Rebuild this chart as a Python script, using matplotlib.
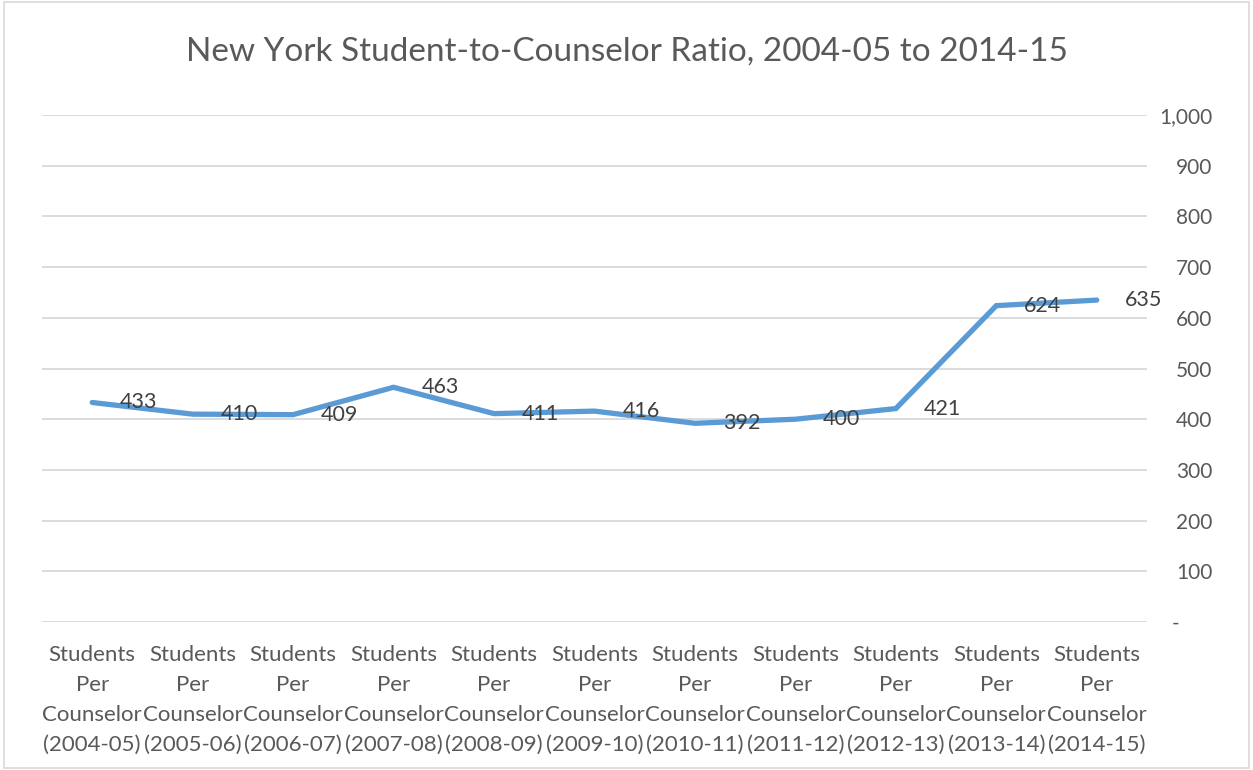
import matplotlib.pyplot as plt
from matplotlib.patches import Rectangle
from matplotlib.ticker import FixedLocator

# Student-to-counselor ratio by school year
years = ['2004-05', '2005-06', '2006-07', '2007-08', '2008-09', '2009-10',
         '2010-11', '2011-12', '2012-13', '2013-14', '2014-15']
ratios = [433, 410, 409, 463, 411, 416, 392, 400, 421, 624, 635]
y_ticks = [0, 100, 200, 300, 400, 500, 600, 700, 800, 900, 1000]

plt.rcParams['font.family'] = ['Lato', 'DejaVu Sans']

line_color = '#5b9bd5'
text_color = '#595959'
label_color = '#404040'
grid_color = '#d9d9d9'

fig = plt.figure(figsize=(12.53, 7.7), dpi=100)
ax = fig.add_axes([0.0335, 0.1922, 0.8819, 0.6584])

x = list(range(len(years)))
ax.plot(x, ratios, color=line_color, linewidth=3.8, solid_joinstyle='miter',
        solid_capstyle='round', zorder=3)

# value labels sit just right of each point
for xi, v in zip(x, ratios):
    ax.annotate(str(v), (xi, v), xytext=(20, 0), textcoords='offset points',
                ha='left', va='center', fontsize=15.5, color=label_color, zorder=4)

ax.set_xlim(-0.5, len(years) - 0.5)
ax.set_ylim(0, 1000)

ax.yaxis.set_major_locator(FixedLocator(y_ticks))
ax.grid(axis='y', color=grid_color, linewidth=1.3, zorder=0)
for s in ax.spines.values():
    s.set_visible(False)

ax.yaxis.tick_right()
ax.set_yticks(y_ticks)
ax.set_yticklabels(['-      '] + [f'{t:,}' for t in y_ticks[1:]])
ax.tick_params(axis='y', length=0, pad=47, labelsize=15, labelcolor=text_color)
for lbl in ax.get_yticklabels():
    lbl.set_horizontalalignment('right')

ax.set_xticks(x)
ax.set_xticklabels([f'Students\nPer\nCounselor\n({y})' for y in years],
                   fontsize=16, color=text_color, linespacing=1.62)
ax.tick_params(axis='x', length=0, pad=16.5)

fig.suptitle('New York Student-to-Counselor Ratio, 2004-05 to 2014-15',
             y=0.952, fontsize=24, color=text_color)

# thin frame round the whole chart
fig.patches.append(Rectangle((0.003, 0.003), 0.994, 0.994, transform=fig.transFigure,
                             fill=False, edgecolor='#d9d9d9', linewidth=1.2))

fig.savefig('out.png', dpi=100)
